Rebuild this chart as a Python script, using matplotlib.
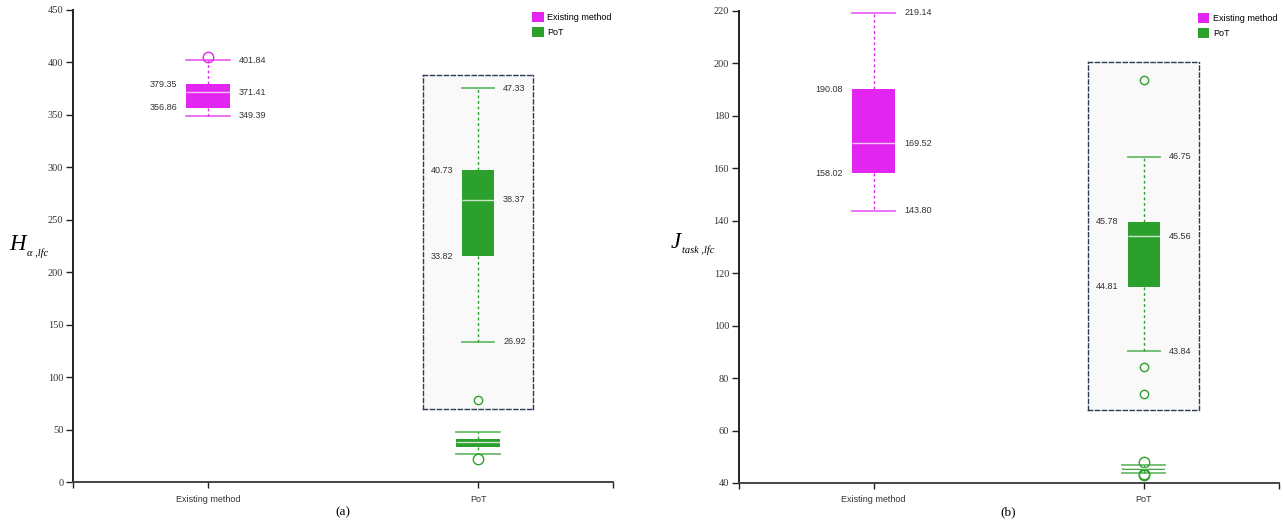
import matplotlib
matplotlib.use('Agg')
import matplotlib.pyplot as plt
from matplotlib.patches import Patch

# five-number summaries
methods = ['Existing method', 'PoT']

h_existing = dict(q1=356.86, med=371.41, q3=379.35, whislo=349.39, whishi=401.84, fliers=[405.2])
h_pot = dict(q1=33.82, med=38.37, q3=40.73, whislo=26.92, whishi=47.33, fliers=[22.2])

j_existing = dict(q1=158.02, med=169.52, q3=190.08, whislo=143.80, whishi=219.14, fliers=[])
j_pot = dict(q1=44.81, med=45.56, q3=45.78, whislo=43.84, whishi=46.75, fliers=[47.9, 43.6, 43.2])

h_ticks = list(range(0, 451, 50))
j_ticks = list(range(40, 221, 20))

MAGENTA = '#e225f0'
GREEN = '#2ca02c'
TXT = '#333333'

W, H = 1283, 525
fig = plt.figure(figsize=(W / 100, H / 100), dpi=100)
ax1 = fig.add_axes([0.0569, 0.0819, 0.4209, 0.8991])
ax2 = fig.add_axes([0.5758, 0.0800, 0.4208, 0.8996])


def draw_box(ax, st, pos, color, width, ms, labels=True):
    ax.bxp([st], positions=[pos], widths=width, capwidths=width, patch_artist=True,
           boxprops=dict(facecolor=color, edgecolor='none'),
           medianprops=dict(color='white', alpha=0.75, lw=1),
           whiskerprops=dict(color=color, ls=(0, (2, 2)), lw=1),
           capprops=dict(color=color, alpha=0.7, lw=1.3),
           flierprops=dict(marker='o', mfc='none', mec=color, ms=ms, mew=1))
    if not labels:
        return
    hw = width / 2
    kw = dict(textcoords='offset points', va='center', fontsize=6.5,
              family='Liberation Sans', color=TXT)
    for key in ['whishi', 'med', 'whislo']:
        ax.annotate('%.2f' % st[key], (pos + hw, st[key]), xytext=(6.5, 0), ha='left', **kw)
    for key in ['q3', 'q1']:
        ax.annotate('%.2f' % st[key], (pos - hw, st[key]), xytext=(-6.5, 0), ha='right', **kw)


def style_axis(ax, ticks):
    ax.set_xlim(-0.5, 1.5)
    ax.set_ylim(ticks[0], ticks[-1])
    ax.set_yticks(ticks)
    ax.set_xticks([-0.5, 0, 1, 1.5])
    ax.set_xticklabels(['', methods[0], methods[1], ''], family='Liberation Sans', fontsize=6.5, color=TXT)
    for lab in ax.get_yticklabels():
        lab.set_family('Liberation Serif')
        lab.set_fontsize(7.5)
        lab.set_color(TXT)
    ax.tick_params(axis='y', length=5, width=1, pad=2, color='#222222')
    ax.tick_params(axis='x', length=4, width=1, pad=5, color='#222222')
    ax.spines['top'].set_visible(False)
    ax.spines['right'].set_visible(False)
    ax.spines['left'].set_color('#222222')
    ax.spines['bottom'].set_color('#444444')
    ax.spines['left'].set_linewidth(1.4)
    ax.spines['bottom'].set_linewidth(1.4)
    ax.legend(handles=[Patch(facecolor=MAGENTA, label=methods[0]),
                       Patch(facecolor=GREEN, label=methods[1])],
              loc='upper left', bbox_to_anchor=(0.85, 0.995), frameon=False,
              prop=dict(family='Liberation Sans', size=6.5),
              handlelength=1.3, handleheight=1.3, handletextpad=0.4,
              labelspacing=0.55, borderpad=0, borderaxespad=0)


def zoom_inset(ax, rect, st, ylim):
    ins = ax.inset_axes(rect, transform=ax.transData)
    ins.set_facecolor('#f9f9f9')
    draw_box(ins, st, 0, GREEN, 0.29, 6)
    ins.set_xlim(-0.5, 0.5)
    ins.set_ylim(*ylim)
    ins.set_xticks([])
    ins.set_yticks([])
    for s in ins.spines.values():
        s.set_linestyle((0, (3, 2)))
        s.set_color('#2b3a55')
        s.set_linewidth(1)
    return ins


def ylabel(x, y, main, sub, sub_dx, sub_dy):
    # big italic letter with a small italic subscript, as in the paper figure
    fig.text(x / W, 1 - y / H, main, family='Liberation Serif', style='italic',
             fontsize=16.5, ha='left', va='center')
    fig.text((x + sub_dx) / W, 1 - (y + sub_dy) / H, sub, family='Liberation Serif',
             style='italic', fontsize=7.5, ha='left', va='center')


# (a)
draw_box(ax1, h_existing, 0, MAGENTA, 0.16, 7.5)
draw_box(ax1, h_pot, 1, GREEN, 0.16, 7.5, labels=False)
style_axis(ax1, h_ticks)
zoom_inset(ax1, [0.795, 69.5, 0.41, 318.5], h_pot, (21.5, 48.4))
ylabel(9, 244, 'H', '\u03b1 ,lfc', 18, 9)

# (b)
draw_box(ax2, j_existing, 0, MAGENTA, 0.16, 7.5)
draw_box(ax2, j_pot, 1, GREEN, 0.16, 7.5, labels=False)
style_axis(ax2, j_ticks)
zoom_inset(ax2, [0.795, 68, 0.41, 132.5], j_pot, (42.97, 48.17))
ylabel(671, 242, 'J', 'task ,lfc', 11, 8)

fig.text(343 / W, 1 - 512 / H, '(a)', family='Liberation Serif', fontsize=9.5, ha='center', va='center')
fig.text(1008 / W, 1 - 512 / H, '(b)', family='Liberation Serif', fontsize=9.5, ha='center', va='center')

fig.savefig('out.png', dpi=100)
